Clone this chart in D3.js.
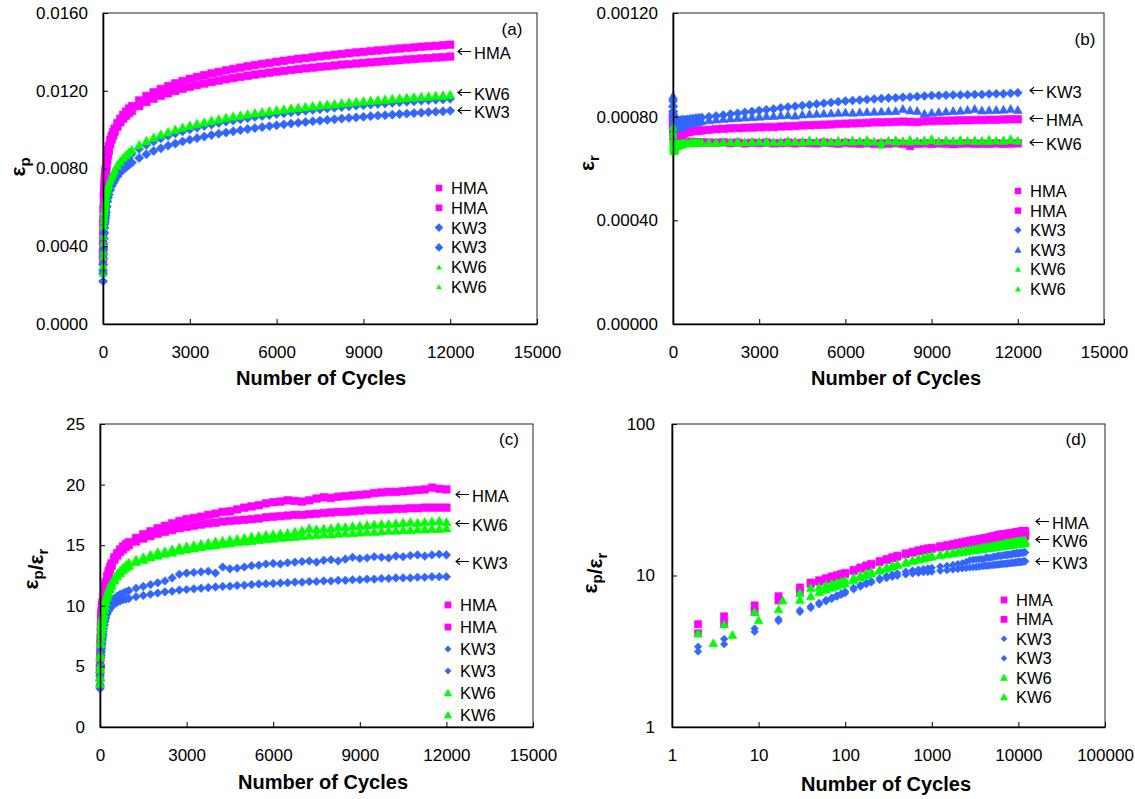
<!DOCTYPE html>
<html>
<head>
<meta charset="utf-8">
<script src="https://cdn.jsdelivr.net/npm/d3@7"></script>
<style>
  body { margin: 0; background: #fff; }
  svg text { font-family: "Liberation Sans", Arial, sans-serif; fill: #000; }
</style>
</head>
<body>
<svg id="fig" width="1135" height="799"></svg>
<script>
// ---------- data ----------
// load-cycle numbers at which the readings were logged
const cycles = [2,4,9,17,30,40,50,60,70,80,90,100,125,150,175,200,250,300,350,400,500,600,700,800,900,1000,
  1250,1500,1750,2000,2250,2500,2750,3000,3250,3500,3750,4000,4250,4500,4750,5000,5250,5500,5750,6000,
  6250,6500,6750,7000,7250,7500,7750,8000,8250,8500,8750,9000,9250,9500,9750,10000,10250,10500,10750,
  11000,11250,11500,11750,12000];
// second KW6 specimen was logged one cycle later during the first readings
const cyclesKW6b = [3,5,10,19].concat(cycles.slice(4));

// (a) permanent strain, x10^-3
const epHMA1 = [3.6,4.3,5.2,5.9,6.6,6.9,7.2,7.4,7.6,7.75,7.9,8.0,8.4,8.7,8.95,9.15,9.45,9.68,9.88,10.05,10.33,10.56,10.76,10.93,11.08,11.21,
  11.50,11.73,11.92,12.09,12.24,12.38,12.50,12.61,12.71,12.80,12.89,12.97,13.05,13.12,13.19,13.26,13.32,13.38,13.43,13.49,13.54,13.59,13.64,13.68,13.73,13.77,13.81,13.85,13.89,13.93,13.97,14.00,14.04,14.07,14.10,14.14,14.17,14.20,14.23,14.26,14.29,14.31,14.34,14.37];
const epHMA2 = [3.25,3.9,4.75,5.45,6.15,6.5,6.8,7.05,7.25,7.45,7.6,7.75,8.1,8.45,8.7,8.92,9.25,9.5,9.7,9.88,10.15,10.38,10.56,10.72,10.85,10.96,
  11.21,11.42,11.59,11.74,11.87,11.99,12.10,12.20,12.29,12.37,12.45,12.52,12.59,12.65,12.71,12.77,12.83,12.88,12.93,12.98,13.02,13.07,13.11,13.15,13.19,13.23,13.26,13.30,13.34,13.37,13.40,13.43,13.46,13.49,13.52,13.55,13.57,13.61,13.63,13.66,13.68,13.71,13.73,13.76];
const epKW3a = [2.6,3.05,3.6,4.1,4.65,4.95,5.2,5.4,5.55,5.7,5.85,6.0,6.35,6.6,6.8,6.95,7.2,7.4,7.57,7.71,7.97,8.18,8.35,8.5,8.64,8.76,
  9.01,9.22,9.39,9.55,9.68,9.80,9.91,10.01,10.10,10.19,10.26,10.34,10.41,10.47,10.53,10.59,10.65,10.70,10.75,10.80,10.84,10.89,10.93,10.97,11.01,11.05,11.09,11.13,11.16,11.20,11.23,11.26,11.29,11.32,11.35,11.38,11.41,11.44,11.46,11.49,11.51,11.54,11.56,11.59];
const epKW3b = [2.2,2.75,3.35,3.85,4.4,4.7,4.95,5.15,5.3,5.45,5.6,5.75,6.05,6.3,6.5,6.65,6.9,7.1,7.25,7.38,7.6,7.8,7.95,8.07,8.19,8.3,
  8.54,8.73,8.90,9.04,9.17,9.28,9.39,9.48,9.56,9.64,9.72,9.79,9.85,9.91,9.97,10.03,10.08,10.13,10.18,10.22,10.27,10.31,10.35,10.39,10.43,10.46,10.50,10.53,10.57,10.60,10.63,10.66,10.69,10.72,10.74,10.77,10.80,10.82,10.85,10.87,10.90,10.92,10.94,10.97];
const epKW6a = [3.0,3.45,4.15,4.5,5.3,5.55,5.75,5.9,6.05,6.2,6.35,6.5,6.75,6.9,7.05,7.2,7.43,7.62,7.80,7.95,8.2,8.41,8.59,8.74,8.87,8.99,
  9.25,9.46,9.63,9.79,9.92,10.04,10.15,10.25,10.34,10.42,10.50,10.58,10.65,10.71,10.77,10.83,10.89,10.94,10.99,11.04,11.08,11.13,11.17,11.21,11.25,11.29,11.33,11.36,11.40,11.43,11.47,11.50,11.53,11.56,11.59,11.62,11.65,11.68,11.70,11.73,11.75,11.78,11.80,11.83];
const epKW6b = [2.6,3.0,3.7,5.0,5.1,5.45,5.7,5.85,6.0,6.15,6.28,6.42,6.67,6.83,6.98,7.12,7.35,7.54,7.71,7.86,8.11,8.32,8.5,8.65,8.78,8.9,
  9.16,9.37,9.54,9.70,9.83,9.95,10.06,10.16,10.25,10.33,10.41,10.49,10.56,10.62,10.68,10.74,10.80,10.85,10.90,10.95,10.99,11.04,11.08,11.12,11.16,11.20,11.24,11.27,11.31,11.34,11.38,11.41,11.44,11.47,11.50,11.53,11.56,11.59,11.61,11.64,11.66,11.69,11.71,11.74];

// (b) resilient strain, x10^-4
const erHMA1 = [8.1,7.9,7.7,7.5,7.4,7.35,7.3,7.28,7.26,7.25,7.25,7.25,7.26,7.27,7.28,7.3,7.32,7.34,7.36,7.38,7.4,7.42,7.44,7.45,7.46,7.47,
  7.49,7.52,7.53,7.55,7.56,7.57,7.58,7.59,7.6,7.6,7.62,7.63,7.64,7.66,7.67,7.68,7.69,7.7,7.72,7.73,7.74,7.75,7.76,7.78,7.78,7.79,7.8,7.81,7.80,7.79,7.82,7.83,7.84,7.84,7.85,7.86,7.86,7.87,7.87,7.88,7.88,7.89,7.9,7.9];
const erHMA2 = [7.8,7.6,7.4,7.25,7.15,7.1,7.08,7.05,7.05,7.04,7.04,7.03,7.03,7.02,7.03,7.02,7.03,7.02,7.04,7.03,7.02,7.03,7.01,7.02,7.0,7.01,
  7.0,6.99,7.01,6.98,7.0,6.97,6.99,6.98,7.0,6.97,6.98,7.0,6.97,6.99,6.98,6.97,7.0,6.98,6.96,6.99,6.97,6.96,6.98,6.95,6.97,6.96,6.98,6.95,6.87,6.96,6.97,6.95,6.97,6.96,6.94,6.96,6.97,6.95,6.96,6.95,6.97,6.95,6.96,6.97];
const erKW3a = [8.6,8.4,8.2,8.05,7.95,7.9,7.88,7.86,7.85,7.85,7.84,7.84,7.84,7.84,7.85,7.85,7.86,7.87,7.88,7.89,7.9,7.92,7.93,7.95,7.96,7.97,
  8.0,8.03,8.06,8.1,8.13,8.17,8.2,8.24,8.27,8.3,8.34,8.37,8.4,8.43,8.46,8.49,8.52,8.55,8.58,8.6,8.62,8.64,8.66,8.68,8.7,8.72,8.73,8.75,8.76,8.78,8.8,8.82,8.82,8.83,8.84,8.84,8.85,8.86,8.86,8.87,8.88,8.88,8.9,8.92];
const erKW3b = [8.8,8.5,8.2,8.0,7.85,7.75,7.7,7.65,7.62,7.6,7.58,7.57,7.56,7.56,7.57,7.58,7.6,7.62,7.64,7.66,7.7,7.73,7.76,7.78,7.8,7.82,
  7.86,7.89,7.91,7.93,7.95,7.97,7.98,8.0,8.02,8.03,8.05,8.06,8.04,8.08,8.1,8.11,8.12,8.13,8.15,8.16,8.15,8.17,8.18,8.19,8.2,8.21,8.22,8.3,8.24,8.22,8.12,8.15,8.18,8.2,8.22,8.23,8.26,8.3,8.24,8.25,8.26,8.27,8.3,8.26];
const erKW6a = [7.6,7.3,7.0,6.8,6.7,6.65,6.7,6.75,6.8,6.85,6.9,6.95,6.9,6.85,6.9,6.95,6.88,6.92,6.98,7.0,6.95,7.0,7.05,6.98,7.02,7.0,
  7.03,6.98,7.04,7.01,7.06,7.0,7.05,7.02,7.07,7.0,7.04,7.08,7.02,7.05,7.1,7.03,7.07,7.02,7.09,7.04,7.1,7.05,7.12,7.03,6.9,7.08,7.11,7.05,7.12,7.06,7.1,7.15,7.06,7.1,7.05,7.12,7.07,7.1,7.05,7.13,7.07,7.1,7.15,7.08];
const erKW6b = [7.4,7.1,6.9,6.75,6.7,6.68,6.72,6.78,6.82,6.86,6.9,6.92,6.95,6.92,6.97,6.9,6.95,6.98,6.93,6.97,7.0,6.96,7.0,7.03,6.97,7.02,
  6.98,7.02,6.99,7.03,6.98,7.02,7.0,7.04,6.99,7.03,7.0,7.02,7.05,7.0,7.03,7.06,7.0,7.04,7.01,7.05,7.02,7.06,7.01,7.05,7.03,7.06,7.02,7.07,7.03,7.06,7.04,7.08,7.03,7.06,7.08,7.04,7.07,7.05,7.08,7.04,7.07,7.05,7.09,7.06];

// (c), (d) ratio of permanent to resilient strain
const rtHMA1 = [4.15,4.82,5.74,6.84,7.8,8.8,9.1,9.4,9.65,9.85,10.05,10.2,10.7,11.1,11.45,11.75,12.25,12.65,13.0,13.3,13.8,14.15,14.45,14.65,14.85,15.0,
  15.3,15.55,15.75,15.95,16.1,16.25,16.4,16.5,16.6,16.7,16.8,16.85,16.95,17.0,17.05,17.1,17.15,17.2,17.3,17.35,17.4,17.45,17.5,17.5,17.55,17.6,17.65,17.7,17.75,17.75,17.8,17.85,17.9,17.9,17.95,17.95,18.0,18.0,18.05,18.05,18.1,18.1,18.1,18.1];
const rtHMA2 = [4.77,5.38,6.35,7.3,8.33,8.98,9.3,9.6,9.85,10.05,10.25,10.4,10.9,11.3,11.65,11.95,12.45,12.85,13.2,13.5,14.0,14.35,14.65,14.9,15.1,15.25,
  15.6,15.9,16.15,16.4,16.6,16.8,17.0,17.15,17.25,17.35,17.5,17.6,17.75,17.8,17.95,18.1,18.2,18.3,18.45,18.55,18.6,18.7,18.65,18.6,18.7,18.85,18.95,18.9,19.0,19.05,19.1,19.15,19.2,19.3,19.35,19.4,19.4,19.45,19.5,19.55,19.6,19.75,19.65,19.6];
const rtKW3a = [3.39,3.81,4.47,5.15,5.9,6.25,6.6,6.9,7.15,7.4,7.6,7.85,8.3,8.65,8.95,9.2,9.6,9.9,10.15,10.35,10.6,10.8,10.95,11.05,11.15,11.25,
  11.45,11.6,11.75,11.9,12.05,12.3,12.6,12.7,12.75,12.8,12.85,12.7,13.2,13.05,13.1,13.2,13.3,13.35,13.45,13.5,13.45,13.55,13.6,13.65,13.7,13.6,13.75,13.8,13.7,13.85,14.0,13.9,13.95,14.05,14.0,13.95,14.1,14.05,14.15,14.2,14.1,14.2,14.25,14.2];
const rtKW3b = [3.15,3.52,4.25,5.0,5.74,6.1,6.45,6.75,7.0,7.25,7.45,7.65,8.1,8.45,8.75,9.0,9.35,9.6,9.8,9.95,10.15,10.3,10.4,10.5,10.55,10.6,
  10.75,10.85,10.95,11.05,11.15,11.2,11.3,11.35,11.4,11.45,11.5,11.55,11.6,11.62,11.68,11.7,11.75,11.8,11.82,11.85,11.88,11.9,11.95,11.95,12.0,12.0,12.05,12.05,12.1,12.1,12.15,12.15,12.2,12.2,12.25,12.25,12.3,12.3,12.3,12.35,12.35,12.4,12.4,12.4];
const rtKW6a = [4.15,4.75,5.74,5.98,7.64,8.27,8.4,8.65,8.85,9.0,9.15,9.3,9.7,10.05,10.35,10.6,11.0,11.35,11.65,11.9,12.3,12.65,12.9,13.15,13.35,13.55,
  13.8,14.0,14.2,14.4,14.5,14.65,14.8,14.9,15.0,15.1,15.2,15.3,15.35,15.45,15.5,15.6,15.7,15.75,15.85,15.9,15.95,16.0,16.1,16.2,16.4,16.3,16.35,16.4,16.5,16.5,16.55,16.6,16.65,16.7,16.75,16.75,16.8,16.85,16.9,16.85,16.9,16.95,17.0,16.9];
const rtKW6b = [3.57,4.05,5.07,6.84,6.9,7.3,7.76,8.05,8.3,8.5,8.7,8.85,9.3,9.7,10.0,10.3,10.75,11.1,11.4,11.7,12.1,12.45,12.7,12.95,13.15,13.3,
  13.6,13.8,14.0,14.15,14.3,14.4,14.55,14.65,14.75,14.85,14.95,15.0,15.1,15.15,15.25,15.3,15.35,15.45,15.5,15.55,15.6,15.65,15.7,15.75,15.8,15.85,15.9,15.9,15.95,16.0,16.0,16.05,16.1,16.1,16.15,16.2,16.2,16.25,16.25,16.3,16.3,16.35,16.35,16.4];

// axis ticks
const cycleTicksLin = [0,3000,6000,9000,12000,15000];
const cycleTicksLog = [1,10,100,1000,10000,100000];
const epTicks = [0,0.004,0.008,0.012,0.016];
const erTicks = [0,0.0004,0.0008,0.0012];
const ratioTicksLin = [0,5,10,15,20,25];
const ratioTicksLog = [1,10,100];

// ---------- drawing ----------
const COLORS = { HMA: '#FF00FF', KW3: '#3366FF', KW6: '#00FF00' };
const FONT = '"Liberation Sans", Arial, sans-serif';
const svg = d3.select('#fig');

function markerPath(shape, r) {
  if (shape === 'square') return `M${-r},${-r}h${2 * r}v${2 * r}h${-2 * r}Z`;
  if (shape === 'diamond') return `M0,${-r}L${r},0L0,${r}L${-r},0Z`;
  return `M0,${-r}L${r},${r * 0.8}L${-r},${r * 0.8}Z`;
}

function drawPanel(cfg) {
  const [x0, y0, x1, y1] = cfg.box;
  const g = svg.append('g');
  const x = (cfg.log ? d3.scaleLog() : d3.scaleLinear()).domain(cfg.xDomain).range([x0, x1]);
  const y = (cfg.log ? d3.scaleLog() : d3.scaleLinear()).domain(cfg.yDomain).range([y1, y0]);

  g.append('rect')
    .attr('x', x0).attr('y', y0).attr('width', x1 - x0).attr('height', y1 - y0)
    .attr('fill', 'none').attr('stroke', '#222').attr('stroke-width', 1);

  // data markers
  cfg.series.forEach(s => {
    const pts = s.cycles.map((n, i) => [n, s.values[i]]).filter(d => d[1] != null);
    g.append('g').selectAll('path').data(pts).join('path')
      .attr('d', markerPath(s.shape, s.r))
      .attr('transform', d => `translate(${x(d[0]).toFixed(2)},${y(d[1] * cfg.unit).toFixed(2)})`)
      .attr('fill', COLORS[s.name])
      .attr('stroke', COLORS[s.name]).attr('stroke-width', 0.6);
  });

  // axes, ticks pointing inward
  const xa = g.append('g').attr('transform', `translate(0,${y1})`)
    .call(d3.axisBottom(x).tickValues(cfg.xTicks).tickFormat(d3.format('d'))
      .tickSize(-5).tickSizeOuter(0).tickPadding(22));
  const ya = g.append('g').attr('transform', `translate(${x0},0)`)
    .call(d3.axisLeft(y).tickValues(cfg.yTicks).tickFormat(cfg.yFmt)
      .tickSize(-5).tickSizeOuter(0).tickPadding(cfg.yPad));
  [xa, ya].forEach(a => {
    a.attr('font-size', 17).attr('font-family', FONT);
    a.select('.domain').attr('stroke', '#000').attr('stroke-width', 1.6);
    a.selectAll('.tick line').attr('stroke', '#000').attr('stroke-width', 1);
  });

  // axis titles
  g.append('text').attr('x', cfg.xTitle[0]).attr('y', cfg.xTitle[1])
    .attr('text-anchor', 'middle').attr('dy', '0.35em')
    .attr('font-size', 20).attr('font-weight', 'bold').text('Number of Cycles');
  const yt = g.append('text')
    .attr('transform', `translate(${cfg.yTitle[0]},${cfg.yTitle[1]}) rotate(-90)`)
    .attr('text-anchor', 'middle').attr('font-size', 21).attr('font-weight', 'bold');
  cfg.yTitleParts.forEach(([txt, sub]) => {
    yt.append('tspan').text(txt);
    yt.append('tspan').attr('font-size', 15).attr('dy', 5).text(sub);
    yt.append('tspan').attr('dy', -5).text('');
  });

  // panel letter
  g.append('text').attr('x', cfg.letter[0]).attr('y', cfg.letter[1])
    .attr('text-anchor', 'middle').attr('dy', '0.35em').attr('font-size', 17).text(cfg.letterText);

  // legend
  cfg.series.forEach((s, i) => {
    const ly = cfg.legend.y + i * cfg.legend.dy;
    g.append('path').attr('d', markerPath(s.legendShape || s.shape, s.lr))
      .attr('transform', `translate(${cfg.legend.x},${ly})`).attr('fill', COLORS[s.name]);
    g.append('text').attr('x', cfg.legend.x + 12).attr('y', ly).attr('dy', '0.36em')
      .attr('font-size', 16.5).text(s.name);
  });

  // end-of-curve labels: a thin left arrow followed by the mix name
  cfg.notes.forEach(([label, ny]) => {
    const ax = cfg.noteX, ay = ny - 1.5;
    g.append('path')
      .attr('d', `M${ax + 14},${ay}H${ax + 1}M${ax + 5},${ay - 3.2}L${ax + 1},${ay}L${ax + 5},${ay + 3.2}`)
      .attr('fill', 'none').attr('stroke', '#000').attr('stroke-width', 1.1);
    g.append('text').attr('x', ax + 17).attr('y', ny).attr('dy', '0.36em')
      .attr('font-size', 16.5).text(label);
  });
}

drawPanel({
  box: [103, 13, 537, 324], log: false, unit: 1e-3,
  xDomain: [0, 15000], yDomain: [0, 0.016], xTicks: cycleTicksLin, yTicks: epTicks,
  yFmt: d3.format('.4f'), yPad: 15,
  xTitle: [321, 378], yTitle: [25, 167], yTitleParts: [['\u03b5', 'p']],
  letter: [512, 29], letterText: '(a)',
  legend: { x: 439, y: 188, dy: 19.8 },
  noteX: 457, notes: [['HMA', 53], ['KW6', 94], ['KW3', 112]],
  series: [
    { name: 'HMA', shape: 'square', r: 3.8, lr: 3.3, cycles: cycles, values: epHMA1 },
    { name: 'HMA', shape: 'square', r: 3.8, lr: 3.3, cycles: cycles, values: epHMA2 },
    { name: 'KW3', shape: 'diamond', r: 4.6, lr: 4.3, cycles: cycles, values: epKW3a },
    { name: 'KW3', shape: 'diamond', r: 4.6, lr: 4.3, cycles: cycles, values: epKW3b },
    { name: 'KW6', shape: 'triangle', r: 3.8, lr: 2.8, cycles: cycles, values: epKW6a },
    { name: 'KW6', shape: 'triangle', r: 3.8, lr: 2.8, cycles: cyclesKW6b, values: epKW6b }
  ]
});

drawPanel({
  box: [673, 13, 1104, 324], log: false, unit: 1e-4,
  xDomain: [0, 15000], yDomain: [0, 0.0012], xTicks: cycleTicksLin, yTicks: erTicks,
  yFmt: d3.format('.5f'), yPad: 15,
  xTitle: [896, 378], yTitle: [594, 163], yTitleParts: [['\u03b5', 'r']],
  letter: [1085, 39], letterText: '(b)',
  legend: { x: 1018, y: 191, dy: 19.6 },
  noteX: 1029, notes: [['KW3', 92], ['HMA', 120], ['KW6', 144]],
  series: [
    { name: 'HMA', shape: 'square', r: 3.8, lr: 3.2, cycles: cycles, values: erHMA1 },
    { name: 'HMA', shape: 'square', r: 3.8, lr: 3.2, cycles: cycles, values: erHMA2 },
    { name: 'KW3', shape: 'diamond', r: 4.5, lr: 3.6, cycles: cycles, values: erKW3a },
    { name: 'KW3', shape: 'triangle', r: 4.4, lr: 3.6, cycles: cycles, values: erKW3b },
    { name: 'KW6', shape: 'triangle', r: 4.0, lr: 3.0, cycles: cycles, values: erKW6a },
    { name: 'KW6', shape: 'triangle', r: 4.0, lr: 3.0, cycles: cyclesKW6b, values: erKW6b }
  ]
});

drawPanel({
  box: [100, 424, 533, 727], log: false, unit: 1,
  xDomain: [0, 15000], yDomain: [0, 25], xTicks: cycleTicksLin, yTicks: ratioTicksLin,
  yFmt: d3.format('d'), yPad: 15,
  xTitle: [323, 782], yTitle: [38, 569], yTitleParts: [['\u03b5', 'p'], ['/\u03b5', 'r']],
  letter: [509, 439], letterText: '(c)',
  legend: { x: 448, y: 605, dy: 22 },
  noteX: 455, notes: [['HMA', 496], ['KW6', 525], ['KW3', 563]],
  series: [
    { name: 'HMA', shape: 'square', r: 3.8, lr: 3.4, cycles: cycles, values: rtHMA1 },
    { name: 'HMA', shape: 'square', r: 3.8, lr: 3.4, cycles: cycles, values: rtHMA2 },
    { name: 'KW3', shape: 'diamond', r: 4.3, lr: 3.4, cycles: cycles, values: rtKW3a },
    { name: 'KW3', shape: 'diamond', r: 4.3, lr: 3.4, cycles: cycles, values: rtKW3b },
    { name: 'KW6', shape: 'triangle', r: 4.6, lr: 4.2, cycles: cycles, values: rtKW6a },
    { name: 'KW6', shape: 'triangle', r: 4.6, lr: 4.2, cycles: cyclesKW6b, values: rtKW6b }
  ]
});

drawPanel({
  box: [672, 424, 1105, 727], log: true, unit: 1,
  xDomain: [1, 100000], yDomain: [1, 100], xTicks: cycleTicksLog, yTicks: ratioTicksLog,
  yFmt: d3.format('d'), yPad: 17,
  xTitle: [886, 784], yTitle: [597, 573], yTitleParts: [['\u03b5', 'p'], ['/\u03b5', 'r']],
  letter: [1076, 439], letterText: '(d)',
  legend: { x: 1004, y: 600, dy: 19.4 },
  noteX: 1035, notes: [['HMA', 523], ['KW6', 541], ['KW3', 563]],
  series: [
    { name: 'HMA', shape: 'square', r: 3.6, lr: 3.4, cycles: cycles, values: rtHMA1 },
    { name: 'HMA', shape: 'square', r: 3.6, lr: 3.4, cycles: cycles, values: rtHMA2 },
    { name: 'KW3', shape: 'diamond', r: 3.8, lr: 3.2, cycles: cycles, values: rtKW3a },
    { name: 'KW3', shape: 'diamond', r: 3.8, lr: 3.2, cycles: cycles, values: rtKW3b },
    { name: 'KW6', shape: 'triangle', r: 4.4, lr: 4.0, cycles: cycles, values: rtKW6a },
    { name: 'KW6', shape: 'triangle', r: 4.4, lr: 4.0, cycles: cyclesKW6b, values: rtKW6b }
  ]
});
</script>
</body>
</html>
